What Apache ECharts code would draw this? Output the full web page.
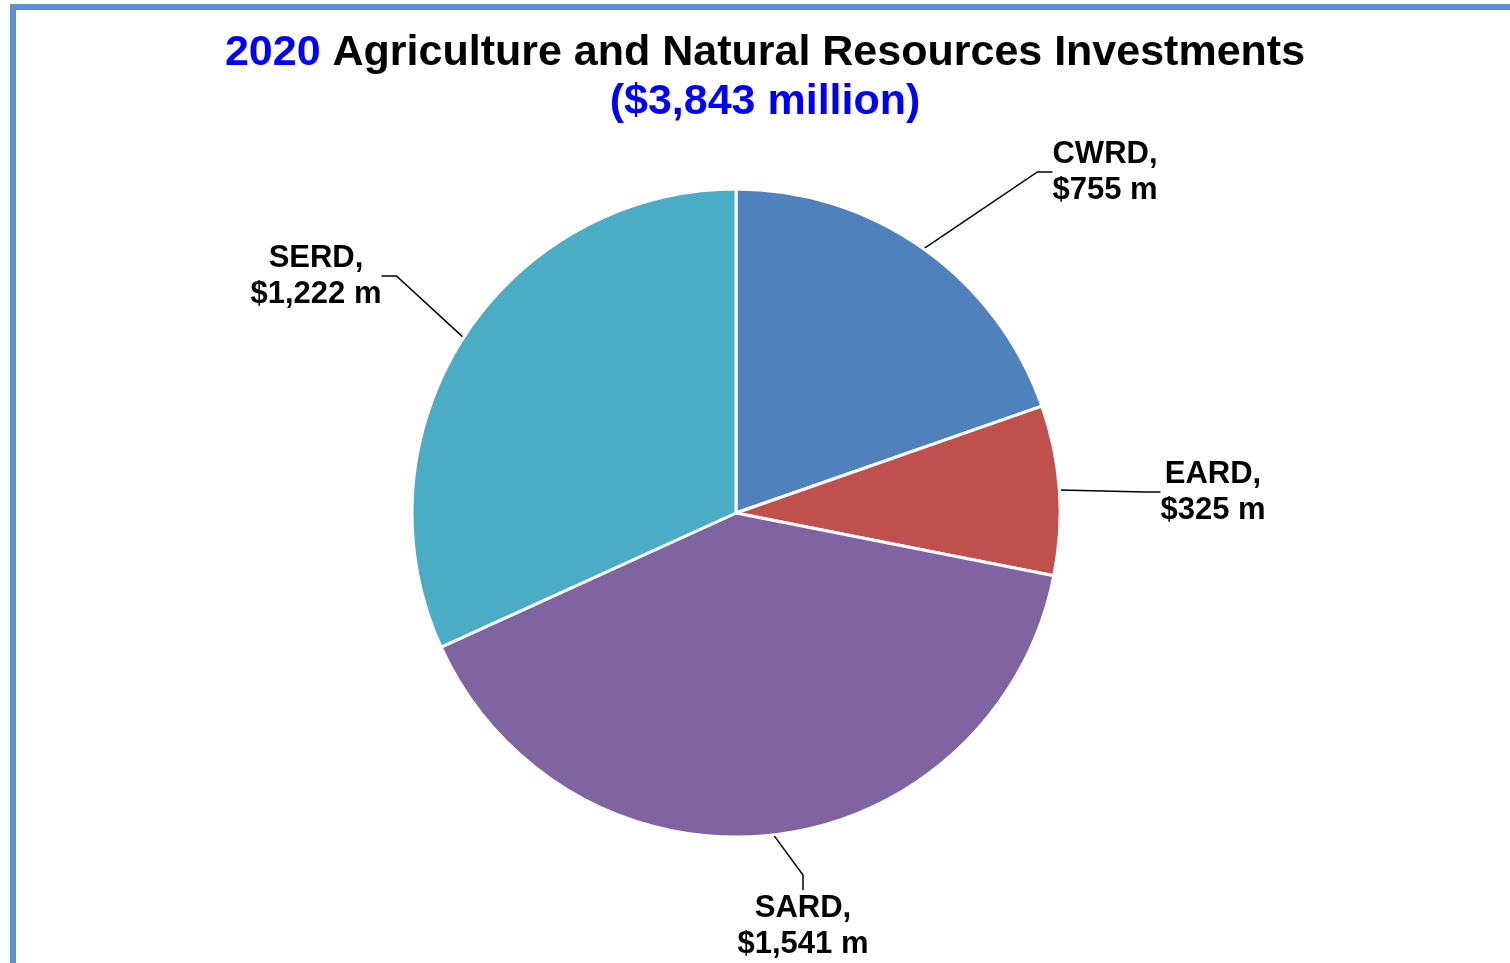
<!DOCTYPE html>
<html>
<head>
<meta charset="utf-8">
<script src="https://cdn.jsdelivr.net/npm/echarts@6/dist/echarts.min.js"></script>
<style>
html,body{margin:0;padding:0;background:#fff;}
#chart{width:1510px;height:963px;}
</style>
</head>
<body>
<div id="chart"></div>
<script>
const titleYear = '2020';
const titleMain = 'Agriculture and Natural Resources Investments';
const titleTotal = '($3,843 million)';
const categories = ['CWRD', 'EARD', 'SARD', 'SERD'];
const values = [755, 325, 1541, 1222];
const colors = ['#4F81BD', '#C0504D', '#8064A2', '#4BACC6'];

// label anchor positions (layout only)
const labelPos = [
  {x: 1105, y: 172},
  {x: 1213, y: 492},
  {x: 803, y: 926},
  {x: 316, y: 276}
];

const font = '"Liberation Sans", Arial, sans-serif';
const chart = echarts.init(document.getElementById('chart'), null, {renderer: 'canvas'});
chart.setOption({
  animation: false,
  backgroundColor: '#ffffff',
  graphic: [{
    type: 'rect',
    shape: {x: 13, y: 7, width: 1520, height: 970},
    style: {fill: 'none', stroke: '#5B8FD6', lineWidth: 6},
    z: 100
  }],
  title: {
    left: 765,
    top: 29,
    textAlign: 'center',
    padding: 0,
    text: '{b|' + titleYear + '} {k|' + titleMain + '}\n{b|' + titleTotal + '}',
    textStyle: {
      fontFamily: font, fontWeight: 'bold', fontSize: 43, color: '#000', lineHeight: 49,
      rich: {
        b: {fontFamily: font, fontWeight: 'bold', fontSize: 43, color: '#0000FF', lineHeight: 49},
        k: {fontFamily: font, fontWeight: 'bold', fontSize: 43, color: '#000000', lineHeight: 49}
      }
    }
  },
  series: [{
    type: 'pie',
    center: [736, 513],
    radius: [0, 324],
    startAngle: 90,
    clockwise: true,
    avoidLabelOverlap: false,
    itemStyle: {borderColor: '#ffffff', borderWidth: 3},
    data: categories.map((c, i) => ({name: c, value: values[i], itemStyle: {color: colors[i]}})),
    label: {
      show: true,
      formatter: p => p.name + ',\n$' + p.value.toLocaleString('en-US') + ' m',
      fontFamily: font, fontWeight: 'bold', fontSize: 31, color: '#000', lineHeight: 36,
      align: 'center'
    },
    labelLine: {
      show: true, length: 20, length2: 15, smooth: false,
      lineStyle: {color: '#000', width: 1.5}
    },
    labelLayout: function (params) {
      const p = labelPos[params.dataIndex];
      return {x: p.x, y: p.y, align: 'center', verticalAlign: 'middle'};
    }
  }]
});
</script>
</body>
</html>
